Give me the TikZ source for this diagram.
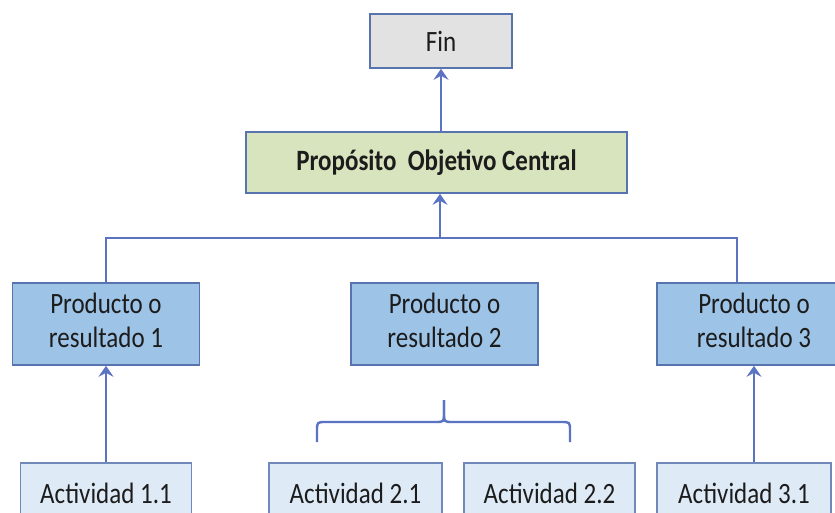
\documentclass[tikz,border=0pt]{standalone}
\usepackage{fontspec}
\setmainfont{Carlito}
\usetikzlibrary{arrows.meta}

\definecolor{linkblue}{HTML}{5A73C2}
\definecolor{edgeblue}{HTML}{5874AE}
\definecolor{finfill}{HTML}{E2E2E2}
\definecolor{propfill}{HTML}{D7E4BD}
\definecolor{prodfill}{HTML}{9DC3E6}
\definecolor{actfill}{HTML}{DEEBF7}
\definecolor{ink}{HTML}{1C1C1C}

% slightly tall lettering
\newcommand{\tallt}[1]{\scalebox{1}[1.18]{#1}}
\newcommand{\twolines}[2]{\tallt{\begin{tabular}{@{}c@{}}#1\\#2\end{tabular}}}

\tikzset{
  box/.style={draw=edgeblue, line width=1.6pt, rectangle, inner sep=0pt,
              text=ink, font=\fontsize{25}{29}\selectfont, align=center},
  finbox/.style={box, fill=finfill},
  propbox/.style={box, fill=propfill, font=\fontsize{25}{29}\selectfont\bfseries},
  prodbox/.style={box, fill=prodfill},
  actbox/.style={box, fill=actfill, draw=edgeblue!85},
  link/.style={draw=linkblue, line width=2.7pt},
  arr/.style={link, -{Stealth[length=11pt,width=15pt,inset=4pt]}}
}

\begin{document}
\begin{tikzpicture}[x=1pt,y=-1pt]
  \useasboundingbox (0,0) rectangle (835,512);
  \fill[white] (0,0) rectangle (835,512);

  % top levels
  \node[finbox, minimum width=142pt, minimum height=54pt] (fin) at (441,41) {\tallt{Fin}};
  \node[propbox, minimum width=381pt, minimum height=61pt] (prop) at (436.5,162.5)
       {\tallt{Propósito\ \ Objetivo Central}};

  % products
  \node[prodbox, minimum width=187pt, minimum height=82pt] (p1) at (106,324)
       {\twolines{Producto o}{resultado 1}};
  \node[prodbox, minimum width=187pt, minimum height=82pt] (p2) at (444.5,324)
       {\twolines{Producto o}{resultado 2}};
  \node[prodbox, minimum width=194pt, minimum height=82pt] (p3) at (754,324)
       {\twolines{Producto o}{resultado 3}};

  % activities
  \node[actbox, minimum width=171pt, minimum height=60pt] (a11) at (106,493) {\tallt{Actividad 1.1}};
  \node[actbox, minimum width=173pt, minimum height=60pt] (a21) at (355.5,493) {\tallt{Actividad 2.1}};
  \node[actbox, minimum width=171pt, minimum height=60pt] (a22) at (549.5,493) {\tallt{Actividad 2.2}};
  \node[actbox, minimum width=174pt, minimum height=60pt] (a31) at (744,493) {\tallt{Actividad 3.1}};

  % connectors between levels
  \draw[arr] (prop.north -| fin) -- (fin.south);
  \coordinate (bar) at (440,238);
  \coordinate (j3) at (737,238);
  \draw[link] (p1.north) |- (j3) -- (j3 |- p3.north);
  \draw[arr] (bar) -- (bar |- prop.south);
  \draw[arr] (a11.north) -- (p1.south);
  \draw[arr] (a31.north -| p3) -- (p3.south);

  % brace grouping the activities of product 2
  \coordinate (bl) at (317,442);
  \coordinate (br) at (570,442);
  \coordinate (tip) at (444,400);
  \draw[link, line width=2.4pt, line join=round]
    (bl) -- (317,431) .. controls (317,422) .. (326,422) -- (435,422)
    .. controls (444,422) .. (444,413) -- (tip);
  \draw[link, line width=2.4pt, line join=round]
    (br) -- (570,431) .. controls (570,422) .. (561,422) -- (453,422)
    .. controls (444,422) .. (444,413) -- (tip);
\end{tikzpicture}
\end{document}
